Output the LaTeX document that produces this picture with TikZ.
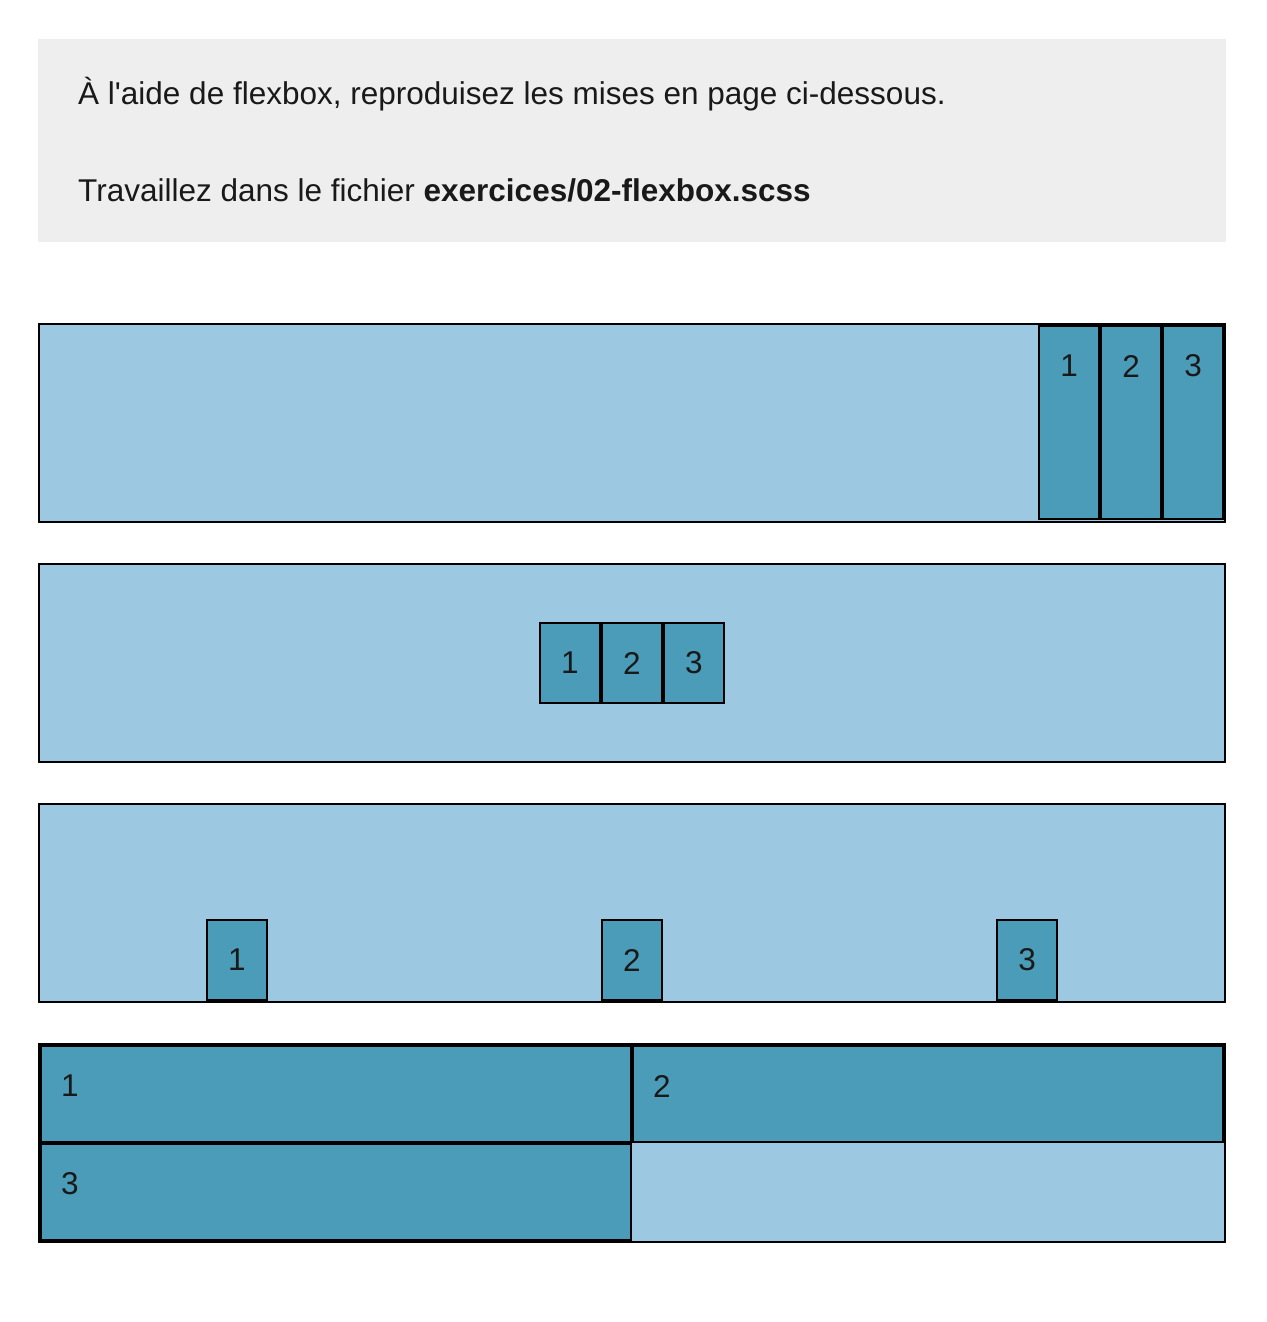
\documentclass[tikz,border=0pt]{standalone}
\usepackage{fontspec}
\setmainfont{Liberation Sans}
\definecolor{greybg}{HTML}{EEEEEE}
\definecolor{lightblue}{HTML}{9DC8E2}
\definecolor{teal}{HTML}{4B9CB9}
\begin{document}
\begin{tikzpicture}[x=1pt,y=-1pt,
  cont/.style={draw=black,line width=2pt,fill=lightblue,inner sep=0pt,outer sep=0pt,anchor=north west},
  item/.style={draw=black,line width=2pt,fill=teal,inner sep=0pt,outer sep=0pt,anchor=north west},
  num/.style={inner sep=0pt,font=\fontsize{31.5}{38}\selectfont,text=black!90},
  para/.style={inner sep=0pt,anchor=base west,font=\fontsize{31.5}{38}\selectfont,text=black!90}]
\useasboundingbox (0,0) rectangle (1266,1322);
\fill[white] (0,0) rectangle (1266,1322);
% header
\node[fill=greybg,inner sep=0pt,outer sep=0pt,anchor=north west,minimum width=1188,minimum height=203] (hdr) at (38,39) {};
\node[para] (l1) at (78,104) {À l\textquotesingle aide de flexbox, reproduisez les mises en page ci-dessous.};
\node[para] (l2) at (78,201) {Travaillez dans le fichier \textbf{exercices/02-flexbox.scss}};
% container 1
\node[cont,minimum width=1186,minimum height=198] (c1) at (39,324) {};
\node[item,minimum width=60,minimum height=193] (c1a) at (1039,326) {};
\node[item,minimum width=60,minimum height=193] (c1b) at (1101,326) {};
\node[item,minimum width=60,minimum height=193] (c1c) at (1163,326) {};
\node[num] (n1a) at (1069,366) {1};
\node[num] (n1b) at (1131,366) {2};
\node[num] (n1c) at (1193,366) {3};
% container 2
\node[cont,minimum width=1186,minimum height=198] (c2) at (39,564) {};
\node[item,minimum width=60,minimum height=80] (c2a) at (540,623) {};
\node[item,minimum width=60,minimum height=80] (c2b) at (602,623) {};
\node[item,minimum width=60,minimum height=80] (c2c) at (664,623) {};
\node[num] (n2a) at (570,663) {1};
\node[num] (n2b) at (632,663) {2};
\node[num] (n2c) at (694,663) {3};
% container 3
\node[cont,minimum width=1186,minimum height=198] (c3) at (39,804) {};
\node[item,minimum width=60,minimum height=80] (c3a) at (207,920) {};
\node[item,minimum width=60,minimum height=80] (c3b) at (602,920) {};
\node[item,minimum width=60,minimum height=80] (c3c) at (997,920) {};
\node[num] (n3a) at (237,960) {1};
\node[num] (n3b) at (632,960) {2};
\node[num] (n3c) at (1027,960) {3};
% container 4
\node[cont,minimum width=1186,minimum height=198] (c4) at (39,1044) {};
\node[item,minimum width=590,minimum height=96] (c4a) at (41,1046) {};
\node[item,minimum width=590,minimum height=96] (c4b) at (633,1046) {};
\node[item,minimum width=590,minimum height=96] (c4c) at (41,1144) {};
\node[num] (n4a) at (70,1086) {1};
\node[num] (n4b) at (662,1086) {2};
\node[num] (n4c) at (70,1184) {3};
\end{tikzpicture}
\end{document}
